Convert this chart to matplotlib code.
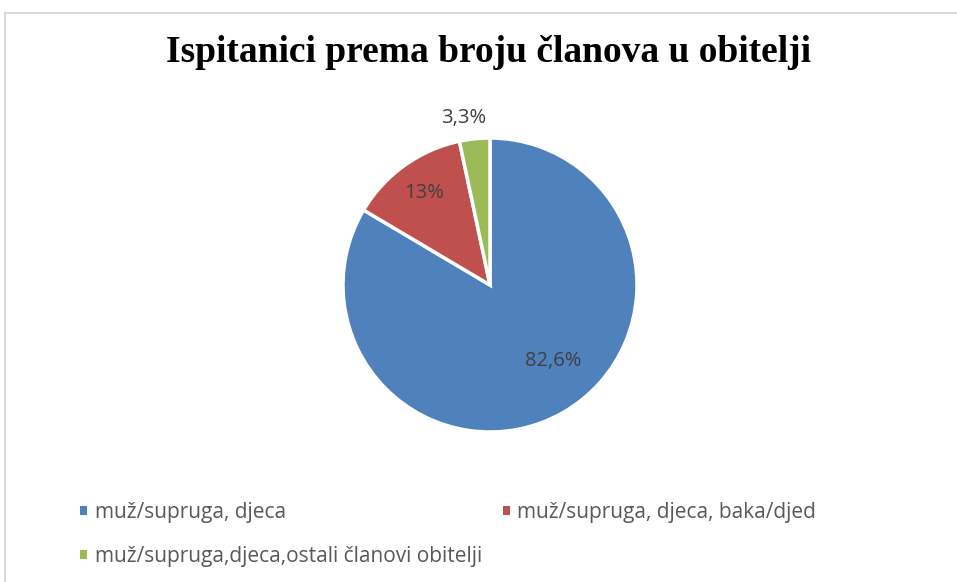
import numpy as np
import matplotlib
matplotlib.use("Agg")
import matplotlib.pyplot as plt
from matplotlib.patches import Patch, Rectangle

# --- data ---------------------------------------------------------------
categories = ["muž/supruga, djeca",
              "muž/supruga, djeca, baka/djed",
              "muž/supruga,djeca,ostali članovi obitelji"]
values = [82.6, 13.0, 3.3]
value_labels = ["82,6%", "13%", "3,3%"]
colors = ["#4F81BD", "#C0504D", "#9BBB59"]
# data label placement (radius fraction, angle nudge in degrees)
label_dist = [0.67, 0.77, 1.15]
label_nudge = [10, 0, 3]

title = "Ispitanici prema broju članova u obitelji"

W, H = 957, 582
fig = plt.figure(figsize=(W / 100, H / 100), dpi=100)

# light grey chart frame
fig.patches.append(Rectangle((5 / W, -0.1), 1.2, 1 - 13 / H + 0.1,
                             transform=fig.transFigure, fill=False,
                             edgecolor="#D9D9D9", linewidth=1.5))

fig.text(489 / W, 1 - 53 / H, title, ha="center", va="center",
         family="Liberation Serif", fontweight="bold", fontsize=27)

# pie axes: centre (490, 285) px, radius 147 px
cx, cy, r = 490, 285, 147
ax = fig.add_axes([(cx - r) / W, 1 - (cy + r) / H, 2 * r / W, 2 * r / H])
wedges, _ = ax.pie(values, colors=colors, startangle=90, counterclock=False,
                   wedgeprops=dict(edgecolor="white", linewidth=2.5))
ax.set_xlim(-1, 1)
ax.set_ylim(-1, 1)
ax.set_aspect("equal")
ax.axis("off")

for w, lab, d, nudge in zip(wedges, value_labels, label_dist, label_nudge):
    ang = np.deg2rad((w.theta1 + w.theta2) / 2 + nudge)
    ax.text(d * np.cos(ang), d * np.sin(ang), lab, ha="center", va="center",
            family="Open Sans", fontsize=14.5, color="#404040")

# legend, row-major like the original: reorder for column-major filling
handles = [Patch(facecolor=c, edgecolor="none") for c in colors]
order = [0, 2, 1]
fig.legend([handles[i] for i in order], [categories[i] for i in order],
           ncols=2, loc="upper left", bbox_to_anchor=(80 / W, 1 - 502 / H),
           frameon=False, borderpad=0, borderaxespad=0,
           handlelength=0.35, handleheight=0.35,
           handletextpad=0.35, columnspacing=1.0, labelspacing=1.1,
           prop=dict(family="Open Sans", size=15), labelcolor="#595959")

fig.savefig("out.png", dpi=100)
